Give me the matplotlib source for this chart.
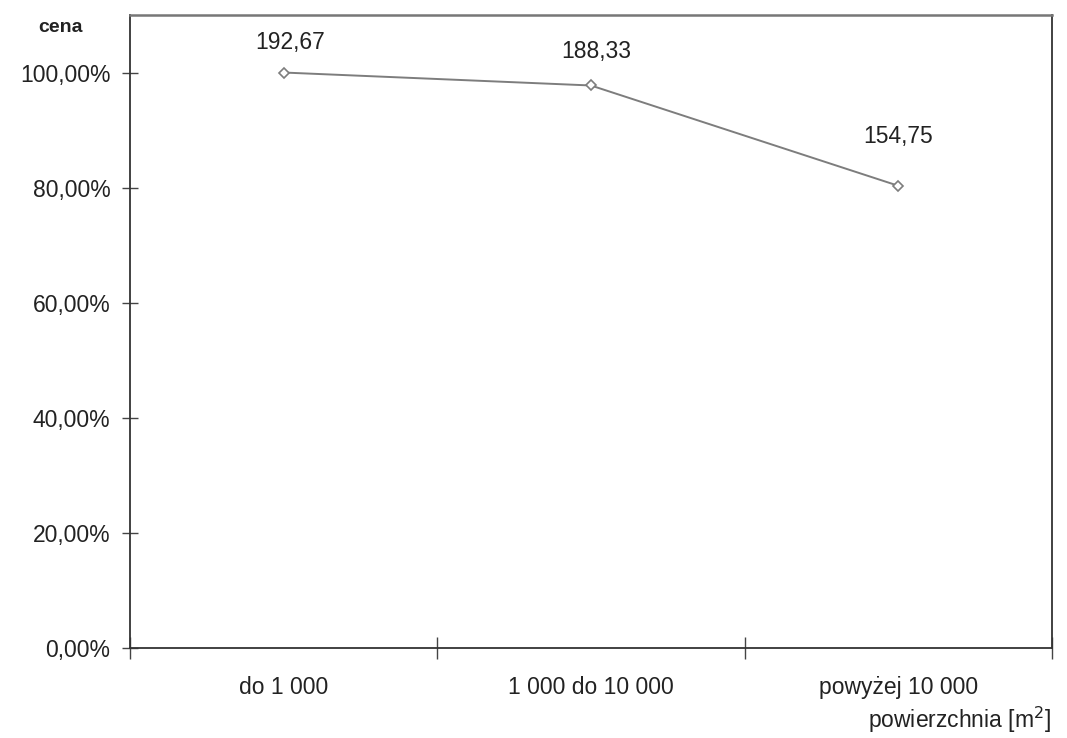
import matplotlib.pyplot as plt
from matplotlib.ticker import FuncFormatter

plt.rcParams['font.family'] = ['Liberation Sans', 'DejaVu Sans']

categories = ['do 1 000', '1 000 do 10 000', 'powyżej 10 000']
prices = [192.67, 188.33, 154.75]
price_labels = ['192,67', '188,33', '154,75']
label_offsets = [(5, 13), (4, 16), (0, 27)]

# share of the cheapest-per-m2 group price
shares = [p / prices[0] * 100 for p in prices]

fig = plt.figure(figsize=(10.67, 7.38), dpi=100)
ax = fig.add_axes([0.1218, 0.122, 0.8641, 0.8577])

x = list(range(len(categories)))
ax.plot(x, shares, color='#7d7d7d', lw=1.4, marker='D', ms=5,
        mfc='white', mec='#7d7d7d', mew=1.2)

fs = 16.5
for xi, yi, lab, off in zip(x, shares, price_labels, label_offsets):
    ax.annotate(lab, (xi, yi), xytext=off, textcoords='offset points',
                ha='center', va='bottom', fontsize=fs, color='#222222')

ax.set_xlim(-0.5, len(categories) - 0.5)
ax.set_ylim(0, 110)
ax.set_yticks(range(0, 101, 20))
ax.yaxis.set_major_formatter(FuncFormatter(lambda v, _: f'{v:.2f}%'.replace('.', ',')))

# category labels sit between the boundary ticks
ax.set_xticks([i - 0.5 for i in range(len(categories) + 1)])
ax.set_xticklabels([])
ax.set_xticks(x, minor=True)
ax.set_xticklabels(categories, minor=True, fontsize=fs, color='#222222')
ax.tick_params(axis='x', which='minor', length=0, pad=20)
ax.tick_params(axis='x', which='major', direction='inout', length=16, width=1, color='#444444')
ax.tick_params(axis='y', direction='inout', length=12, width=1, color='#444444',
               labelsize=fs, labelcolor='#222222', pad=8)

for side in ['left', 'bottom', 'right']:
    ax.spines[side].set_color('#333333')
    ax.spines[side].set_linewidth(1.3)
ax.spines['top'].set_color('#777777')
ax.spines['top'].set_linewidth(1.8)

fig.text(0.057, 0.963, 'cena', fontsize=14, fontweight='bold', color='#222222',
         ha='center', va='center')
fig.text(0.985, 0.024, 'powierzchnia [m$^2$]', fontsize=fs, color='#222222',
         ha='right', va='center')

fig.savefig('out.png', dpi=100)
